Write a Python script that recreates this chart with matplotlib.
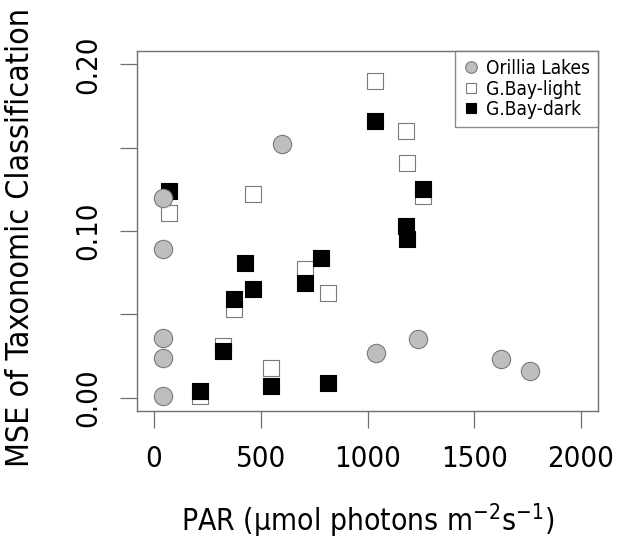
import matplotlib
matplotlib.use("Agg")
import matplotlib.pyplot as plt
from matplotlib.lines import Line2D
from matplotlib import font_manager

# Light level (PAR) and classification error for each site group
orillia_par = [43, 43, 43, 43, 43, 600, 1040, 1235, 1625, 1760]
orillia_mse = [0.120, 0.089, 0.036, 0.024, 0.001, 0.152, 0.027, 0.035, 0.023, 0.016]

light_par = [68, 464, 1033, 1180, 1184, 1261, 709, 815, 374, 324, 549, 217]
light_mse = [0.111, 0.122, 0.190, 0.160, 0.141, 0.121, 0.077, 0.063, 0.053, 0.031, 0.018, 0.001]

dark_par = [68, 1033, 1261, 1181, 1183, 782, 709, 815, 427, 463, 374, 324, 549, 217]
dark_mse = [0.124, 0.166, 0.125, 0.103, 0.095, 0.084, 0.069, 0.009, 0.081, 0.065, 0.059, 0.028, 0.007, 0.004]

x_ticks = [0, 500, 1000, 1500, 2000]
y_ticks = [0.00, 0.05, 0.10, 0.15, 0.20]
y_ticklabels = ["0.00", "", "0.10", "", "0.20"]
legend_labels = ["Orillia Lakes", "G.Bay-light", "G.Bay-dark"]

# Prefer the condensed DejaVu face when it is available
has_condensed = any(f.name == "DejaVu Sans" and f.stretch == "condensed"
                    for f in font_manager.fontManager.ttflist)
stretch = "condensed" if has_condensed else "normal"
k = 1.0 if has_condensed else 0.9
plt.rcParams["font.family"] = ["DejaVu Sans"]
plt.rcParams["font.stretch"] = stretch

W, H = 618, 541
fig = plt.figure(figsize=(W / 100, H / 100), dpi=100)
L, R, T, B = 137, 598, 51, 411
ax = fig.add_axes([L / W, (H - B) / H, (R - L) / W, (B - T) / H])

edge = "#7a7a7a"
ax.scatter(light_par, light_mse, marker="s", s=11.8 ** 2, facecolor="white",
           edgecolor=edge, linewidth=0.8, zorder=3)
ax.scatter(dark_par, dark_mse, marker="s", s=11.8 ** 2, facecolor="black",
           edgecolor="black", linewidth=0.8, zorder=4)
ax.scatter(orillia_par, orillia_mse, marker="o", s=13.2 ** 2, facecolor="#bebebe",
           edgecolor=edge, linewidth=0.8, zorder=5)

ax.set_xlim(-80, 2080)
ax.set_ylim(-0.008, 0.208)
ax.set_xticks(x_ticks)
ax.set_xticklabels([str(v) for v in x_ticks])
ax.set_yticks(y_ticks)
ax.set_yticklabels(y_ticklabels, rotation=90, va="center")

for s in ax.spines.values():
    s.set_color("#707070")
    s.set_linewidth(1.0)
ax.tick_params(axis="both", direction="out", length=12.2, width=0.9,
               color="#707070", labelsize=21 * k)
ax.tick_params(axis="x", pad=12.5)
ax.tick_params(axis="y", pad=13)

ax.set_xlabel("PAR (μmol photons m$^{-2}$s$^{-1}$)", fontsize=21.5 * k,
              va="center")
ax.xaxis.set_label_coords(0.5, (B - 521) / (B - T))
ax.set_ylabel("MSE of Taxonomic Classification", fontsize=23.0 * k, va="center")
ax.yaxis.set_label_coords((21 - L) / (R - L), (B - 237) / (B - T))

handles = [
    Line2D([], [], linestyle="none", marker="o", markersize=8.4,
           markerfacecolor="#bebebe", markeredgecolor=edge, markeredgewidth=0.8),
    Line2D([], [], linestyle="none", marker="s", markersize=7.8,
           markerfacecolor="white", markeredgecolor=edge, markeredgewidth=0.8),
    Line2D([], [], linestyle="none", marker="s", markersize=7.8,
           markerfacecolor="black", markeredgecolor="black", markeredgewidth=0.8),
]
leg = ax.legend(handles, legend_labels, loc="upper right", bbox_to_anchor=(1, 1),
                borderaxespad=0, fontsize=13.7 * k, frameon=True, fancybox=False,
                handlelength=0.8, handletextpad=0.4, labelspacing=0.08,
                borderpad=0.42)
leg.get_frame().set_edgecolor("#707070")
leg.get_frame().set_linewidth(1.0)

fig.savefig("out.png", dpi=100)
